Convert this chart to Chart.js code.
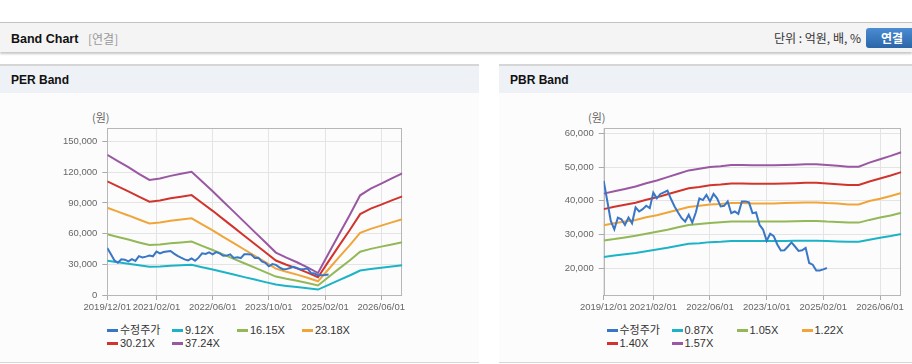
<!DOCTYPE html>
<html><head><meta charset="utf-8">
<script src="https://cdn.jsdelivr.net/npm/chart.js@4.4.1/dist/chart.umd.min.js"></script>
<style>
body{margin:0;width:912px;height:364px;overflow:hidden;background:#fff;position:relative;font-family:'Liberation Sans','Noto Sans CJK KR',sans-serif;}
.abs{position:absolute;}
#hdr{left:0;top:22px;width:912px;height:29px;background:#f4f4f4;border-top:1px solid #c2c2c2;box-shadow:0 2px 2px rgba(0,0,0,0.22);}
.ttl{font-weight:bold;font-size:12.5px;color:#111;line-height:16px;white-space:nowrap;}
#sub{left:88px;top:31px;font-size:12px;color:#999;line-height:16px;font-family:'Noto Sans CJK KR',sans-serif;}
#unit{right:51px;top:30px;font-size:12px;color:#333;line-height:16px;white-space:nowrap;font-family:'Noto Sans CJK KR',sans-serif;}
#btn{left:866px;top:28px;width:52px;height:20px;border-radius:3px;background:linear-gradient(#4b8cd2,#2b65a8);color:#fff;font-weight:bold;font-size:12px;line-height:20px;text-align:center;font-family:'Noto Sans CJK KR',sans-serif;}
.panel{top:64px;height:296px;border-top:2px solid #d6d6d6;border-bottom:1px solid #d6d6d6;background:#fcfcfc;}
.phead{position:absolute;left:0;top:0;right:0;height:27px;background:#eef2f7;}
.unitlbl{font-size:11px;color:#666;line-height:14px;font-family:'Noto Sans CJK KR',sans-serif;}
canvas{position:absolute;}
.lg{position:absolute;font-size:11px;color:#333;line-height:14px;white-space:nowrap;}
.lg i{position:absolute;left:0;top:6px;width:11px;height:3px;}
.lg span{position:absolute;top:0;}
</style>
</head><body>
<div id="hdr" class="abs"></div>
<div class="abs ttl" style="left:11px;top:31px;">Band Chart</div>
<div id="sub" class="abs">[연결]</div>
<div id="unit" class="abs">단위 : 억원, 배, %</div>
<div id="btn" class="abs">연결</div>

<div class="abs panel" style="left:0;width:479px;"><div class="phead"></div></div>
<div class="abs panel" style="left:499px;width:413px;"><div class="phead"></div></div>
<div class="abs ttl" style="left:11px;top:72px;font-size:12px;">PER Band</div>
<div class="abs ttl" style="left:510px;top:72px;font-size:12px;">PBR Band</div>
<div class="abs unitlbl" style="left:92px;top:110px;">(원)</div>
<div class="abs unitlbl" style="left:588px;top:110px;">(원)</div>

<canvas id="per" width="479" height="230" style="left:0;top:93px;width:479px;height:230px;"></canvas>
<canvas id="pbr" width="413" height="230" style="left:499px;top:93px;width:413px;height:230px;"></canvas>
<div id="legends"></div>

<script>
// x positions are months since 2019/12
const xTickMonths = [0, 14, 30, 46, 62, 78];
const xTickLabels = ['2019/12/01', '2021/02/01', '2022/06/01', '2023/10/01', '2025/02/01', '2026/06/01'];
const bandMonths = [0,3,6,9,12,15,18,21,24,27,30,33,36,39,42,45,48,51,54,57,60,63,66,69,72,75,78,81,84];

// 수정주가 (monthly, from 2019/12)
const price = [45900,40000,34000,31500,35000,34500,32800,35000,33300,38000,36800,37500,38500,37800,42400,40700,
  42000,42500,43000,40500,38300,36500,34800,33800,35800,33500,36500,40700,40200,41700,39800,42000,
  40700,38300,38500,39800,36300,36800,36100,39800,39800,39500,36300,36500,32800,31400,28100,30200,
  29500,27000,25200,25300,26400,27600,26400,25100,25300,26000,21500,21000,19300,19300,19600,20000];

// PER bands
const perLabels = ['9.12X', '16.15X', '23.18X', '30.21X', '37.24X'];
const per912  = [33600,32100,30600,29000,27600,27900,28500,29000,29500,27200,24900,22400,20000,17500,15100,12600,10200,8900,7800,6600,5300,9900,14600,19100,23900,25500,26700,27900,29100];
const per1615 = [59400,56800,54200,51400,48800,49400,50500,51400,52300,48100,44000,39700,35300,31000,26700,22300,18000,15800,13900,11700,9300,17600,25800,33800,42300,45100,47300,49400,51600];
const per2318 = [85300,81500,77800,73800,70000,71000,72500,73800,75000,69100,63200,56900,50700,44500,38300,32100,25800,22700,19900,16800,13400,25200,37000,48500,60700,64700,67800,71000,74100];
const per3021 = [111100,106300,101400,96100,91300,92500,94500,96100,97700,90000,82300,74200,66100,58000,49900,41800,33700,29600,26000,21900,17400,32900,48300,63300,79100,84400,88400,92500,96500];
const per3724 = [137000,131000,125000,118500,112500,114000,116500,118500,120500,111000,101500,91500,81500,71500,61500,51500,41500,36500,32000,27000,21500,40500,59500,78000,97500,104000,109000,114000,119000];
const perYTicks = [0, 30000, 60000, 90000, 120000, 150000];

// PBR bands
const pbrLabels = ['0.87X', '1.05X', '1.22X', '1.40X', '1.57X'];
const pbr087 = [23300,23700,24100,24500,25000,25500,26000,26600,27200,27400,27700,27800,28000,28000,28000,28000,28000,28000,28100,28100,28100,28000,27900,27800,27800,28400,29000,29500,30100];
const pbr105 = [28200,28600,29100,29600,30200,30800,31400,32100,32800,33100,33400,33600,33800,33800,33800,33800,33800,33800,33900,34000,34000,33800,33700,33500,33500,34300,35000,35600,36400];
const pbr122 = [32700,33300,33800,34300,35100,35700,36500,37300,38100,38500,38900,39000,39300,39300,39200,39200,39200,39300,39400,39500,39500,39300,39200,38900,38900,39900,40600,41400,42300];
const pbr140 = [37500,38200,38800,39400,40300,41000,41900,42800,43700,44100,44600,44800,45100,45100,45000,45000,45000,45100,45200,45300,45300,45100,44900,44700,44700,45700,46600,47500,48500];
const pbr157 = [42100,42800,43500,44200,45200,46000,47000,48000,49000,49500,50000,50200,50600,50600,50500,50500,50500,50600,50700,50800,50800,50600,50400,50100,50100,51300,52300,53300,54400];
const pbrYTicks = [20000, 30000, 40000, 50000, 60000];

const colors = ['#3a76c6', '#1db3c7', '#93b857', '#f0a53a', '#d1342d', '#9a58a3'];

Chart.defaults.font.family = "'Liberation Sans','Noto Sans CJK KR',sans-serif";
Chart.defaults.animation = false;

function pts(months, vals) { return vals.map((v, i) => ({ x: months[i], y: v })); }
function pricePts() { return price.map((v, i) => ({ x: i, y: v })); }

const frame = {
  id: 'frame',
  beforeDatasetsDraw(c) {
    const a = c.chartArea, g = c.ctx;
    g.save(); g.strokeStyle = '#b7b7b7'; g.lineWidth = 1;
    g.strokeRect(Math.round(a.left) + 0.5, Math.round(a.top) + 0.5, Math.round(a.right) - Math.round(a.left) - 1, Math.round(a.bottom) - Math.round(a.top));
    g.restore();
  }
};

function build(id, bandVals, labels, yMin, yMax, yTicks, leftW, rightPad) {
  const ds = [{ label: '수정주가', data: pricePts(), borderColor: colors[0] }];
  bandVals.forEach((b, k) => ds.push({ label: labels[k], data: pts(bandMonths, b), borderColor: colors[k + 1] }));
  ds.forEach(d => { d.borderWidth = 2; d.pointRadius = 0; d.tension = 0; d.fill = false; });
  new Chart(document.getElementById(id), {
    type: 'line',
    data: { datasets: ds },
    options: {
      responsive: false, maintainAspectRatio: false,
      layout: { padding: { left: 0, right: rightPad, top: 35.3, bottom: 0 } },
      plugins: { legend: { display: false }, tooltip: { enabled: false } },
      scales: {
        x: {
          type: 'linear', min: 0, max: 84,
          afterBuildTicks: s => { s.ticks = xTickMonths.map(v => ({ value: v })); },
          afterFit: s => { s.height = 28; },
          ticks: { autoSkip: false, maxRotation: 0, minRotation: 0, padding: 2, color: '#666', font: { size: 9.5 },
            callback: v => xTickLabels[xTickMonths.indexOf(v)] },
          grid: { color: '#e4e4e4', tickColor: '#aaaaaa', tickLength: 5 },
          border: { display: false }
        },
        y: {
          min: yMin, max: yMax,
          afterBuildTicks: s => { s.ticks = yTicks.map(v => ({ value: v })); },
          afterFit: s => { s.width = leftW; },
          ticks: { padding: 5, color: '#666', font: { size: 9.5 }, callback: v => v.toLocaleString('en-US') },
          grid: { color: '#e4e4e4', tickColor: '#aaaaaa', tickLength: 5 },
          border: { display: false }
        }
      }
    },
    plugins: [frame]
  });
  return ds;
}

const perDs = build('per', [per912, per1615, per2318, per3021, per3724], perLabels, 0, 163000, perYTicks, 107.3, 76.7);
const pbrDs = build('pbr', [pbr087, pbr105, pbr122, pbr140, pbr157], pbrLabels, 12000, 61500, pbrYTicks, 104.7, 10.7);

function legend(ds, x0) {
  const host = document.getElementById('legends');
  ds.forEach((d, i) => {
    const col = i % 4, row = Math.floor(i / 4);
    const el = document.createElement('div');
    el.className = 'lg';
    el.style.left = (x0 + col * 65) + 'px';
    el.style.top = (323 + row * 13.3) + 'px';
    el.innerHTML = '<i style="background:' + d.borderColor + '"></i><span style="left:13px">' + d.label + '</span>';
    host.appendChild(el);
  });
}
legend(perDs, 107);
legend(pbrDs, 606.5);
</script>
</body></html>
